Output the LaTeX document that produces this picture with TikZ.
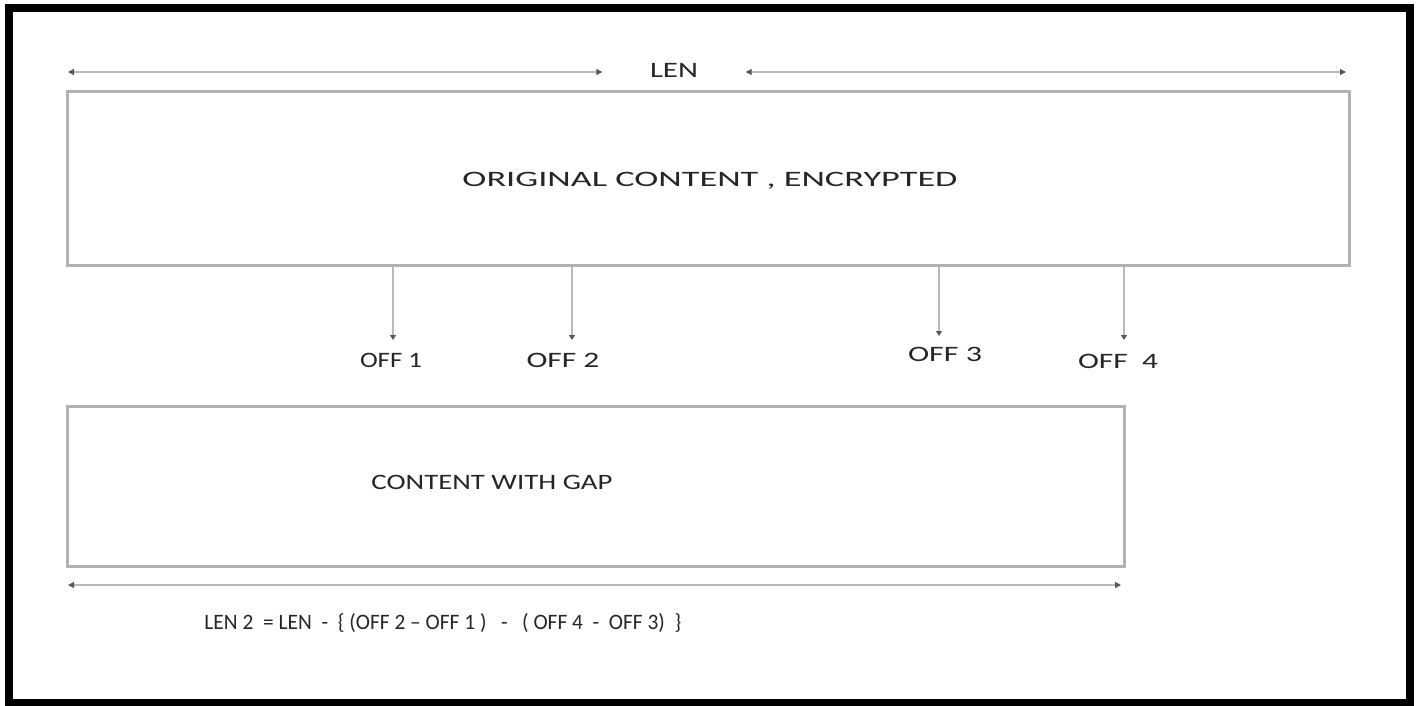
\documentclass[tikz,border=0pt]{standalone}
\usepackage{fontspec}
\setmainfont{Carlito}
\usepackage{graphicx}
\usetikzlibrary{arrows.meta}
% set a text to a given width, keeping its natural height
\newcommand{\hfitto}[2]{\resizebox{#1}{\height}{#2}}

\begin{document}
\begin{tikzpicture}[x=1pt,y=-1pt,
  outerframe/.style={draw=black,line width=8pt},
  blockbox/.style={draw=gray!60,line width=2.6pt,inner sep=0pt,anchor=north west},
  lbl/.style={text=black!85,font=\fontsize{22}{26}\selectfont,inner sep=0pt},
  dimline/.style={draw=gray!55,line width=1.2pt,
    {Triangle[length=6pt,width=6pt,color=black!65]}-{Triangle[length=6pt,width=6pt,color=black!65]}},
  dropline/.style={draw=gray!55,line width=1.4pt,
    -{Triangle[length=5pt,width=6pt,color=black!65]}}]

  \useasboundingbox (0,0) rectangle (1419,706);
  \fill[white] (0,0) rectangle (1419,706);
  \draw[outerframe] (9,8) rectangle (1410,703);

  % the two content blocks
  \node[blockbox,minimum width=1282pt,minimum height=174pt] (orig) at (66,90) {};
  \node[blockbox,minimum width=1057pt,minimum height=160pt] (gap) at (66,405) {};

  \node[lbl] (origtxt) at (710,181) {\hfitto{495pt}{ORIGINAL CONTENT , ENCRYPTED}};
  \node[lbl] (gaptxt) at (492,482) {\hfitto{241pt}{CONTENT WITH GAP}};

  % overall length of the encrypted content
  \node[lbl,minimum width=143pt] (len) at (674,70) {\hfitto{48pt}{LEN}};
  \coordinate (lenL) at (68,72);
  \coordinate (lenR) at (1346,72);
  \draw[dimline] (lenL) -- (lenL -| len.west);
  \draw[dimline] (lenR -| len.east) -- (lenR);

  % offsets of the gaps
  \node[lbl] (off1) at (391,360) {\hfitto{62pt}{OFF 1}};
  \node[lbl] (off2) at (563,360) {\hfitto{73pt}{OFF 2}};
  \node[lbl] (off3) at (945,354) {\hfitto{74pt}{OFF 3}};
  \node[lbl] (off4) at (1118,361) {\hfitto{80pt}{OFF\ \ 4}};
  \coordinate (t1) at (393,340);
  \coordinate (t2) at (572,340);
  \coordinate (t3) at (939,336);
  \coordinate (t4) at (1124,340);
  \foreach \t in {t1,t2,t3,t4}
    \draw[dropline] (orig.south -| \t) -- (\t);

  % length of the content with gaps
  \coordinate (len2L) at (68,585);
  \coordinate (len2R) at (1121,585);
  \draw[dimline] (len2L) -- (len2R);
  \node[lbl] (formula) at (443,623)
    {\hfitto{477pt}{LEN 2\ \ = LEN\ \ -\ \ \{ (OFF 2 -- OFF 1 )\ \ \ -\ \ \ ( OFF 4\ \ -\ \ OFF 3)\ \ \}}};
\end{tikzpicture}
\end{document}
